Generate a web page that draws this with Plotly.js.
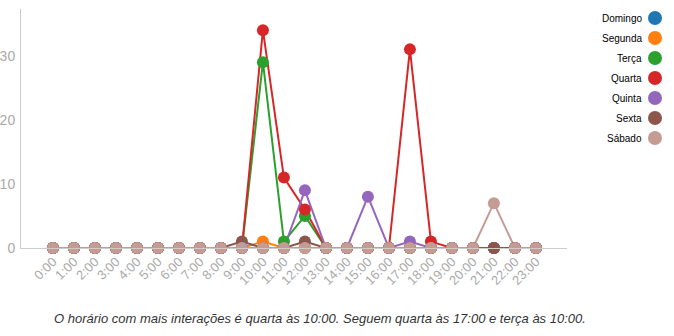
<!DOCTYPE html>
<html>
<head>
<meta charset="utf-8">
<script src="https://cdn.plot.ly/plotly-3.0.1.min.js"></script>
<style>html,body{margin:0;padding:0;background:#fff;}#chart{width:674px;height:336px;}</style>
</head>
<body>
<div id="chart"></div>
<script>
const hours = ["0:00","1:00","2:00","3:00","4:00","5:00","6:00","7:00","8:00","9:00","10:00","11:00","12:00","13:00","14:00","15:00","16:00","17:00","18:00","19:00","20:00","21:00","22:00","23:00"];
const seriesNames = ["Domingo","Segunda","Terça","Quarta","Quinta","Sexta","Sábado"];
const seriesColors = ["#1f77b4","#ff7f0e","#2ca02c","#d62728","#9467bd","#8c564b","#c49c94"];
const domingo = [0,0,0,0,0,0,0,0,0,0,0,0,0,0,0,0,0,0,0,0,0,0,0,0];
const segunda = [0,0,0,0,0,0,0,0,0,0,1,0,0,0,0,0,0,0,0,0,0,0,0,0];
const terca   = [0,0,0,0,0,0,0,0,0,0,29,1,5,0,0,0,0,0,0,0,0,0,0,0];
const quarta  = [0,0,0,0,0,0,0,0,0,0,34,11,6,0,0,0,0,31,1,0,0,0,0,0];
const quinta  = [0,0,0,0,0,0,0,0,0,0,0,0,9,0,0,8,0,1,0,0,0,0,0,0];
const sexta   = [0,0,0,0,0,0,0,0,0,1,0,0,1,0,0,0,0,0,0,0,0,0,0,0];
const sabado  = [0,0,0,0,0,0,0,0,0,0,0,0,0,0,0,0,0,0,0,0,0,7,0,0];
const seriesValues = [domingo, segunda, terca, quarta, quinta, sexta, sabado];
const caption = "O horário com mais interações é quarta às 10:00. Seguem quarta às 17:00 e terça às 10:00.";

const W = 674, H = 336;
const mL = 21, mR = 107, mT = 9, mB = 88;
const pw = W - mL - mR, ph = H - mT - mB;
const px = x => (x - mL) / pw;
const py = y => (H - mB - y) / ph;

const traces = [];
seriesNames.forEach((n, i) => {
  traces.push({type:'scatter', mode:'lines', x:hours, y:seriesValues[i], name:n,
    line:{color:seriesColors[i], width:2}, cliponaxis:false, showlegend:false, hoverinfo:'skip'});
});
seriesNames.forEach((n, i) => {
  traces.push({type:'scatter', mode:'markers', x:hours, y:seriesValues[i], name:n,
    marker:{color:seriesColors[i], size:12, line:{width:0}}, cliponaxis:false, showlegend:false});
});

const annotations = [];
const shapes = [];
seriesNames.forEach((n, i) => {
  const yc = 18 + i * 20;
  annotations.push({xref:'paper', yref:'paper', x:px(644), y:py(yc), xanchor:'right', yanchor:'middle',
    text:n, showarrow:false, font:{family:'Liberation Sans, Arial, sans-serif', size:10, color:'#000'}});
  shapes.push({type:'circle', xref:'paper', yref:'paper', xsizemode:'pixel', ysizemode:'pixel',
    xanchor:px(655), yanchor:py(yc), x0:-7, x1:7, y0:-7, y1:7,
    fillcolor:seriesColors[i], line:{width:0}});
});
annotations.push({xref:'paper', yref:'paper', x:px(320), y:py(318), xanchor:'center', yanchor:'middle',
  text:'<i>'+caption+'</i>', showarrow:false, font:{family:'Liberation Sans, Arial, sans-serif', size:13, color:'#333'}});

const layout = {
  width:W, height:H, margin:{l:mL, r:mR, t:mT, b:mB, pad:0},
  paper_bgcolor:'#fff', plot_bgcolor:'#fff', showlegend:false,
  font:{family:'Liberation Sans, Arial, sans-serif'},
  xaxis:{type:'category', categoryorder:'array', categoryarray:hours, range:[-1.52, 24.48],
    showgrid:false, zeroline:false, showline:true, linecolor:'#ccc', linewidth:1,
    ticks:'', tickangle:-45, tickfont:{size:13, color:'#aaa'}, fixedrange:true},
  yaxis:{range:[0, 37.3], showgrid:false, zeroline:false, showline:true, linecolor:'#ccc', linewidth:1,
    ticks:'', tickvals:[0,10,20,30], tickfont:{size:14, color:'#aaa'}, ticklabelstandoff:2, fixedrange:true},
  annotations:annotations, shapes:shapes
};
Plotly.newPlot('chart', traces, layout, {displayModeBar:false, staticPlot:true});
</script>
</body>
</html>
